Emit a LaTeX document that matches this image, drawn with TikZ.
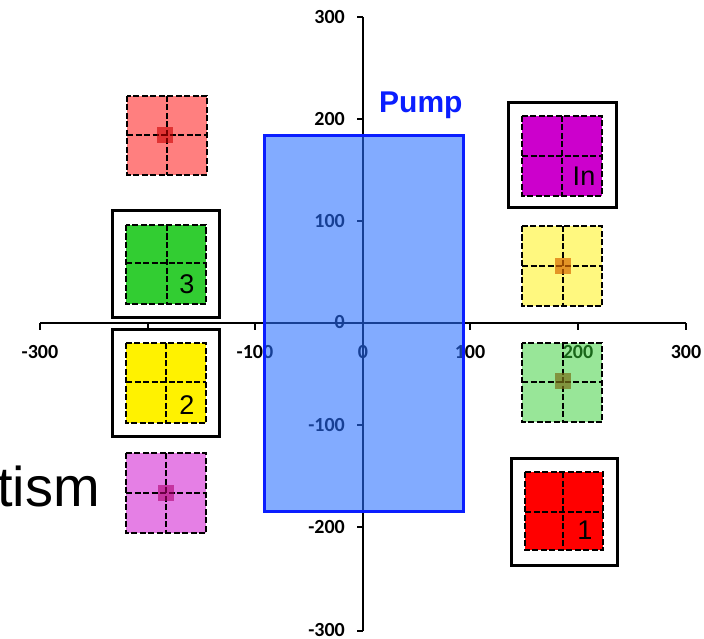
\documentclass[tikz,border=0pt]{standalone}
\usepackage{fontspec}
\setmainfont{Liberation Sans}
\newfontfamily\calib{Carlito}
\definecolor{limeg}{RGB}{50,205,50}
\definecolor{magt}{RGB}{204,0,204}
\definecolor{pumpfill}{RGB}{40,110,255}
\definecolor{pumpline}{RGB}{10,30,255}
\newcommand{\mygrid}[7]{%
  \fill[#7] (#1,#2) rectangle (#3,#4);
  \draw[cell] (#1,#2) rectangle (#3,#4);
  \draw[cell] (#5,#2) -- (#5,#4);
  \draw[cell] (#1,#6) -- (#3,#6);
}
\begin{document}
\begin{tikzpicture}[x=1pt,y=-1pt,
  cell/.style={draw=black,line width=2pt,dash pattern=on 6pt off 2.5pt},
  framebox/.style={draw=black,line width=3pt,fill=white},
  axisline/.style={draw=black,line width=2.4pt},
  tlab/.style={font=\calib\bfseries\fontsize{20}{20}\selectfont,text=black,inner sep=0pt},
  numlab/.style={font=\fontsize{27}{27}\selectfont,inner sep=0pt}]
\useasboundingbox (0,0) rectangle (704,639);
% axes
\draw[axisline] (40,323) -- (686,323);
\draw[axisline] (363,17) -- (363,631);
\foreach \x in {40,148,255,363,470,578,686} \draw[axisline] (\x,323) -- (\x,330);
\foreach \y in {17,119,221,323,425,527,631} \draw[axisline] (357,\y) -- (363,\y);
% horizontal labels
\node[tlab] (hm3) at (40,352) {-300};
\node[tlab] (hm2) at (148,352) {-200};
\node[tlab] (hm1) at (255,352) {-100};
\node[tlab] (h0) at (363,352) {0};
\node[tlab] (h1) at (470,352) {100};
\node[tlab] (h2) at (578,352) {200};
\node[tlab] (h3) at (686,352) {300};
% vertical labels
\node[tlab,anchor=east] (v3) at (345,17) {300};
\node[tlab,anchor=east] (v2) at (345,119) {200};
\node[tlab,anchor=east] (v1) at (345,221) {100};
\node[tlab,anchor=east] (v0) at (345,322) {0};
\node[tlab,anchor=east] (vm1) at (345,425) {-100};
\node[tlab,anchor=east] (vm2) at (345,527) {-200};
\node[tlab,anchor=east] (vm3) at (345,630) {-300};
% pump
\fill[pumpfill,opacity=0.58] (264,136) rectangle (463,511);
\draw[pumpline,line width=3pt] (264,136) rectangle (463,511);
\node[font=\bfseries\fontsize{30}{30}\selectfont,text=pumpline,anchor=base west,inner sep=0pt] (pump) at (379,113) {Pump};
% translucent boxes
\mygrid{127}{96}{207}{175}{167}{135}{red,opacity=0.5}
\fill[red!80!black,opacity=0.6] (157,127) rectangle (173,143);
\mygrid{522}{226}{602}{306}{563}{266}{yellow,opacity=0.5}
\fill[orange!85!black,opacity=0.7] (555,258) rectangle (571,274);
\mygrid{522}{343}{602}{422}{563}{382}{limeg,opacity=0.5}
\fill[olive!80!black,opacity=0.7] (555,373) rectangle (571,389);
\mygrid{126}{453}{206}{533}{166}{493}{magt,opacity=0.5}
\fill[magt!70!red!80!black,opacity=0.6] (158,485) rectangle (174,501);
% framed boxes
\draw[framebox] (112,211) rectangle (219,317);
\mygrid{126}{225}{206}{304}{167}{263}{limeg}
\node[numlab] (n3) at (187,284) {3};
\draw[framebox] (112,329) rectangle (219,436);
\mygrid{126}{343}{206}{423}{166}{382}{yellow}
\node[numlab] (n2) at (187,405) {2};
\draw[framebox] (508,103) rectangle (616,208);
\mygrid{522}{116}{602}{196}{562}{156}{magt}
\node[numlab] (nin) at (584,176) {In};
\draw[framebox] (511,458) rectangle (617,565);
\mygrid{525}{472}{603}{550}{563}{512}{red}
\node[numlab] (n1) at (585,530) {1};
% partial word
\node[font=\fontsize{56}{56}\selectfont,anchor=base east,inner sep=0pt] (tism) at (100,506) {tism};
\end{tikzpicture}
\end{document}
